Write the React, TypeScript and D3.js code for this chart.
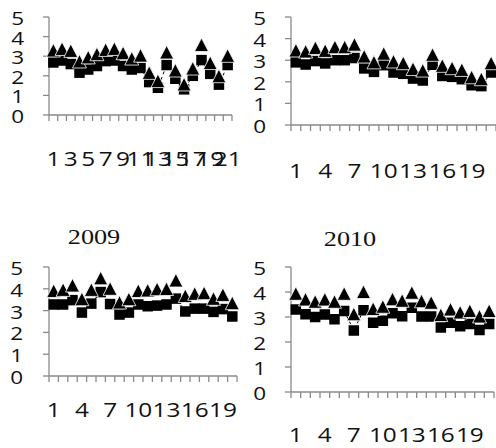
import React from "react";
import * as d3 from "d3";

// categories
const cats21 = [1, 2, 3, 4, 5, 6, 7, 8, 9, 10, 11, 12, 13, 14, 15, 16, 17, 18, 19, 20, 21];
const cats20 = [1, 2, 3, 4, 5, 6, 7, 8, 9, 10, 11, 12, 13, 14, 15, 16, 17, 18, 19, 20];
const yTicks = [0, 1, 2, 3, 4, 5];

// panel 1 (top left)
const tri1 = [3.29, 3.37, 3.27, 2.73, 2.94, 3.1, 3.32, 3.37, 3.15, 2.88, 3.03, 2.15, 1.73, 3.19, 2.27, 1.56, 2.37, 3.57, 2.65, 1.98, 3.02];
const sq1 = [2.68, 2.78, 2.6, 2.16, 2.32, 2.5, 2.75, 2.78, 2.5, 2.32, 2.4, 1.68, 1.39, 2.55, 1.85, 1.31, 2.0, 2.8, 2.1, 1.55, 2.55];

// panel 2 (top right)
const tri2 = [3.45, 3.4, 3.56, 3.43, 3.6, 3.6, 3.72, 3.17, 2.9, 3.3, 2.94, 2.86, 2.59, 2.52, 3.25, 2.74, 2.63, 2.55, 2.21, 2.12, 2.86];
const sq2 = [2.9, 2.8, 2.96, 2.85, 3.0, 3.0, 3.1, 2.62, 2.46, 2.77, 2.43, 2.37, 2.15, 2.06, 2.79, 2.27, 2.23, 2.12, 1.84, 1.8, 2.43];

// panel 3 (2009)
const tri3 = [3.9, 3.95, 4.15, 3.52, 3.95, 4.48, 4.0, 3.37, 3.52, 3.9, 3.92, 3.98, 3.99, 4.38, 3.67, 3.77, 3.8, 3.54, 3.72, 3.34];
const sq3 = [3.28, 3.28, 3.48, 2.91, 3.32, 3.85, 3.3, 2.82, 2.91, 3.28, 3.2, 3.23, 3.28, 3.55, 2.96, 3.09, 3.09, 2.94, 3.07, 2.73];

// panel 4 (2010)
const tri4 = [3.93, 3.7, 3.61, 3.7, 3.61, 3.93, 3.11, 4.0, 3.32, 3.41, 3.71, 3.65, 3.97, 3.63, 3.57, 3.08, 3.3, 3.18, 3.24, 3.02, 3.24];
const sq4 = [3.3, 3.11, 3.0, 3.1, 2.91, 3.24, 2.46, 3.27, 2.77, 2.85, 3.15, 3.03, 3.37, 3.02, 3.02, 2.58, 2.77, 2.63, 2.72, 2.48, 2.72];

const axisColor = "#8a8a8a";
const numFont = "'Open Sans', Lato, sans-serif";
const stretch = 1.25; // the original picture is wider than tall

const triPath = "M0,-7L7,6.5L-7,6.5Z";

// text with a horizontal stretch
function T({ x, y, anchor, size, family, children }) {
  return (
    <text transform={`translate(${x},${y}) scale(${stretch},1)`} textAnchor={anchor}
      dominantBaseline="central" fontFamily={family} fontSize={size} fill="#111">
      {children}
    </text>
  );
}

function Panel({ cats, tri, sq, x0, x1, yTop, yBottom, labelX, xLabelY, step, title, titleX, titleY }) {
  const x = d3.scaleBand().domain(cats.map(String)).range([x0, x1]);
  const y = d3.scaleLinear().domain([0, 5]).range([yBottom, yTop]);
  const cx = (c) => x(String(c)) + x.bandwidth() / 2;
  const sqLine = d3
    .line()
    .x((d, i) => cx(cats[i]))
    .y((d) => y(d));
  const bounds = cats.map((c) => x(String(c))).concat([x1]);
  return (
    <g>
      {title && (
        <T x={titleX} y={titleY} anchor="middle" size={21} family="'Liberation Serif', 'Times New Roman', serif">
          {title}
        </T>
      )}
      <line x1={x0} x2={x0} y1={yTop} y2={yBottom} stroke={axisColor} strokeWidth={1.3} />
      <line x1={x0} x2={x1} y1={yBottom} y2={yBottom} stroke={axisColor} strokeWidth={1.3} />
      {yTicks.map((t) => (
        <g key={"y" + t}>
          <line x1={x0 - 6} x2={x0} y1={y(t)} y2={y(t)} stroke={axisColor} strokeWidth={1.3} />
          <T x={labelX} y={y(t) + 1} anchor="end" size={18} family={numFont}>
            {t}
          </T>
        </g>
      ))}
      {bounds.map((b, i) => (
        <line key={"xt" + i} x1={b} x2={b} y1={yBottom} y2={yBottom + 6} stroke={axisColor} strokeWidth={1.3} />
      ))}
      {cats.filter((c, i) => i % step === 0).map((c) => (
        <T key={"xl" + c} x={cx(c)} y={xLabelY} anchor="middle" size={19.5} family={numFont}>
          {c}
        </T>
      ))}
      <path d={sqLine(sq)} fill="none" stroke="#000" strokeWidth={1} strokeDasharray="3,3" />
      {sq.map((v, i) => (
        <rect key={"s" + i} x={cx(cats[i]) - 5.25} y={y(v) - 5.25} width={10.5} height={10.5} fill="#000" />
      ))}
      {tri.map((v, i) => (
        <path key={"t" + i} d={triPath} transform={`translate(${cx(cats[i])},${y(v)})`}
          fill="#000" stroke="#fff" strokeWidth={0.8} />
      ))}
    </g>
  );
}

export default function App() {
  return (
    <svg width={496} height={448} style={{ position: "absolute", left: 0, top: 0, background: "#fff" }}>
      <rect width={496} height={448} fill="#fff" />
      <Panel cats={cats21} tri={tri1} sq={sq1} x0={49} x1={232} yTop={17} yBottom={115}
        labelX={24} xLabelY={158} step={2} />
      <Panel cats={cats21} tri={tri2} sq={sq2} x0={291} x1={496} yTop={17} yBottom={125}
        labelX={266} xLabelY={170} step={3} />
      <Panel cats={cats20} tri={tri3} sq={sq3} x0={49} x1={237} yTop={267} yBottom={376}
        labelX={23} xLabelY={409} step={3} title="2009" titleX={94} titleY={237} />
      <Panel cats={cats21} tri={tri4} sq={sq4} x0={291} x1={494} yTop={267} yBottom={392}
        labelX={266} xLabelY={434} step={3} title="2010" titleX={350} titleY={239} />
    </svg>
  );
}
